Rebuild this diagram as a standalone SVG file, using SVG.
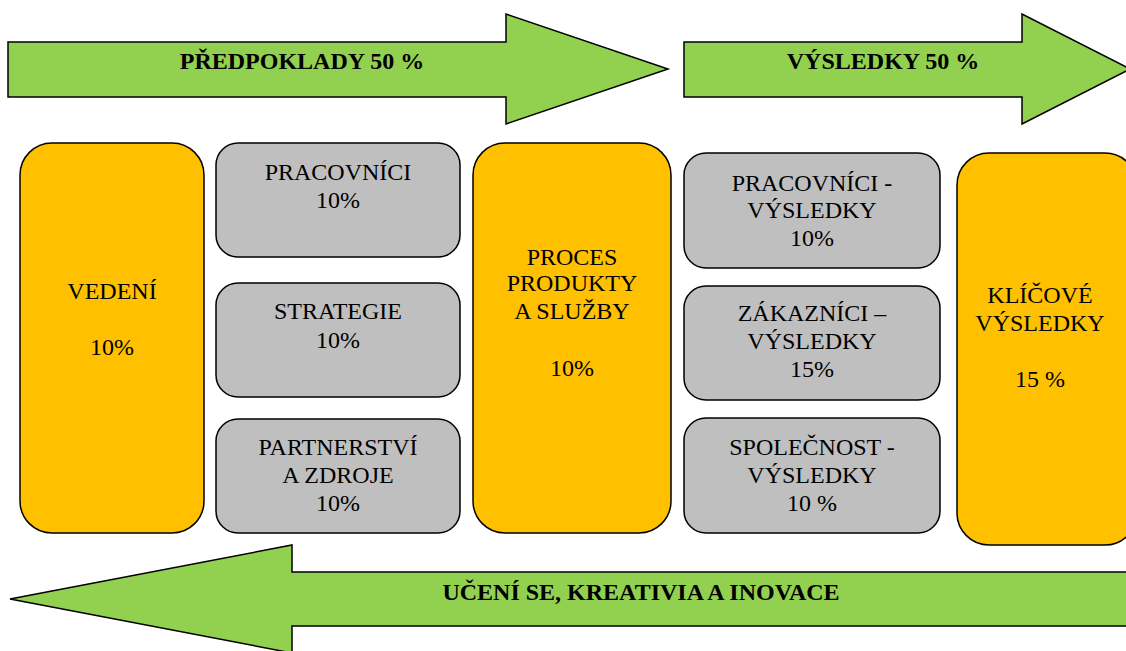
<svg xmlns="http://www.w3.org/2000/svg" width="1126" height="651" viewBox="0 0 1126 651">
  <style>
    .arrow { fill: #92D050; stroke: #000; stroke-width: 1.5; }
    .key { fill: #FFC000; stroke: #000; stroke-width: 1.5; }
    .sub { fill: #BFBFBF; stroke: #000; stroke-width: 1.5; }
    text { font-family: "Liberation Serif", "DejaVu Serif", serif; fill: #000; text-anchor: middle; }
    .lbl { font-size: 24px; }
    .head { font-size: 24px; font-weight: bold; }
  </style>
  <rect width="1126" height="651" fill="#fff"/>

  <!-- direction arrows -->
  <g id="arrows">
    <g id="predpoklady">
      <path class="arrow" d="M8,42 H506 V14 L668,69 L506,124 V97 H8 Z"/>
      <text class="head" x="302" y="69">PŘEDPOKLADY 50 %</text>
    </g>
    <g id="vysledky">
      <path class="arrow" d="M684,42 H1022 V14 L1130,69 L1022,124 V97 H684 Z"/>
      <text class="head" x="883" y="69">VÝSLEDKY 50 %</text>
    </g>
    <g id="uceni">
      <path class="arrow" d="M1130,572 H292 V545 L10,599 L292,653 V626 H1130 Z"/>
      <text class="head" x="641" y="600">UČENÍ SE, KREATIVIA A INOVACE</text>
    </g>
  </g>

  <!-- model criteria -->
  <g id="vedeni">
    <rect class="key" x="20" y="143" width="184" height="390" rx="32"/>
    <text class="lbl" x="112" y="299">VEDENÍ</text>
    <text class="lbl" x="112" y="355">10%</text>
  </g>
  <g id="pracovnici">
    <rect class="sub" x="216" y="143" width="244" height="114" rx="22"/>
    <text class="lbl" x="338" y="180">PRACOVNÍCI</text>
    <text class="lbl" x="338" y="208">10%</text>
  </g>
  <g id="strategie">
    <rect class="sub" x="216" y="283" width="244" height="114" rx="22"/>
    <text class="lbl" x="338" y="319">STRATEGIE</text>
    <text class="lbl" x="338" y="348">10%</text>
  </g>
  <g id="partnerstvi">
    <rect class="sub" x="216" y="419" width="244" height="114" rx="22"/>
    <text class="lbl" x="338" y="455">PARTNERSTVÍ</text>
    <text class="lbl" x="338" y="483">A ZDROJE</text>
    <text class="lbl" x="338" y="511">10%</text>
  </g>
  <g id="procesy">
    <rect class="key" x="473" y="143" width="198" height="390" rx="32"/>
    <text class="lbl" x="572" y="265">PROCES</text>
    <text class="lbl" x="572" y="291">PRODUKTY</text>
    <text class="lbl" x="572" y="319">A SLUŽBY</text>
    <text class="lbl" x="572" y="376">10%</text>
  </g>
  <g id="pracovnici-vysledky">
    <rect class="sub" x="684" y="153" width="256" height="115" rx="22"/>
    <text class="lbl" x="812" y="191">PRACOVNÍCI -</text>
    <text class="lbl" x="812" y="218">VÝSLEDKY</text>
    <text class="lbl" x="812" y="246">10%</text>
  </g>
  <g id="zakaznici-vysledky">
    <rect class="sub" x="684" y="286" width="256" height="114" rx="22"/>
    <text class="lbl" x="812" y="321">ZÁKAZNÍCI –</text>
    <text class="lbl" x="812" y="349">VÝSLEDKY</text>
    <text class="lbl" x="812" y="377">15%</text>
  </g>
  <g id="spolecnost-vysledky">
    <rect class="sub" x="684" y="418" width="256" height="115" rx="22"/>
    <text class="lbl" x="812" y="455">SPOLEČNOST -</text>
    <text class="lbl" x="812" y="483">VÝSLEDKY</text>
    <text class="lbl" x="812" y="511">10 %</text>
  </g>
  <g id="klicove-vysledky">
    <rect class="key" x="957" y="153" width="180" height="392" rx="32"/>
    <text class="lbl" x="1040" y="303">KLÍČOVÉ</text>
    <text class="lbl" x="1040" y="331">VÝSLEDKY</text>
    <text class="lbl" x="1040" y="387">15 %</text>
  </g>
</svg>
